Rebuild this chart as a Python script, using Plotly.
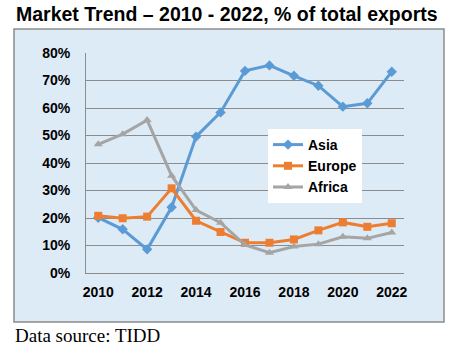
import plotly.graph_objects as go

years = list(range(2010, 2023))
asia = [20.1, 15.9, 8.6, 23.9, 49.6, 58.4, 73.5, 75.5, 71.7, 68.1, 60.5, 61.7, 73.2]
europe = [20.8, 19.9, 20.5, 30.8, 19.0, 14.9, 11.0, 11.0, 12.2, 15.5, 18.4, 16.8, 18.1]
africa = [46.8, 50.5, 55.6, 35.4, 22.9, 18.3, 10.2, 7.4, 9.6, 10.5, 13.2, 12.6, 14.7]
y_ticks = [0, 10, 20, 30, 40, 50, 60, 70, 80]
x_ticks = [2010, 2012, 2014, 2016, 2018, 2020, 2022]

W, H = 460, 348
L, R, T, B = 86, 404, 53, 273
pw, ph = R - L, B - T

def px(x):
    return (x - L) / pw

def py(y):
    return (B - y) / ph

fig = go.Figure()
series = [("Asia", asia, "#5B9BD5", "diamond"),
          ("Europe", europe, "#ED7D31", "square"),
          ("Africa", africa, "#A5A5A5", "triangle-up")]
for name, vals, col, sym in series:
    fig.add_trace(go.Scatter(x=years, y=vals, name=name, mode="lines+markers",
                             line=dict(color=col, width=3),
                             marker=dict(symbol=sym, size=8, color=col)))

fig.update_layout(
    width=W, height=H,
    margin=dict(l=L, r=W - R, t=T, b=H - B, pad=0),
    paper_bgcolor="white",
    plot_bgcolor="#BDD7EE",
    font=dict(family="Liberation Sans, Arial, sans-serif", color="black"),
    showlegend=True,
    legend=dict(x=px(268), y=py(129), xanchor="left", yanchor="top",
                bgcolor="white", borderwidth=0,
                font=dict(size=14, family="Liberation Sans, Arial, sans-serif", weight="bold"),
                tracegroupgap=0, itemwidth=30),
    xaxis=dict(range=[2009.5, 2022.5], tickvals=x_ticks, ticktext=[str(v) for v in x_ticks],
               showgrid=False, zeroline=False, showline=True, linecolor="#8C8C8C", linewidth=1,
               ticks="", tickfont=dict(size=14, weight="bold"), ticklabelstandoff=6),
    yaxis=dict(range=[0, 80], tickvals=y_ticks, ticktext=[f"{v}%" for v in y_ticks],
               showgrid=True, gridcolor="#8C8C8C", gridwidth=1, zeroline=False,
               showline=True, linecolor="#8C8C8C", linewidth=1,
               ticks="", tickfont=dict(size=14, weight="bold"), ticklabelstandoff=12),
    shapes=[dict(type="rect", xref="paper", yref="paper",
                 x0=px(14), x1=px(444), y0=py(322), y1=py(29),
                 fillcolor="#DDEBF7", line=dict(color="#8C8C8C", width=1.5), layer="below")],
    annotations=[
        dict(text="<b>Market Trend – 2010 - 2022, % of total exports</b>", xref="paper", yref="paper",
             x=px(14), y=py(1), xanchor="left", yanchor="top", showarrow=False,
             font=dict(size=19.5, family="Liberation Sans, Arial, sans-serif", color="black")),
        dict(text="Data source: TIDD", xref="paper", yref="paper",
             x=px(13), y=py(323), xanchor="left", yanchor="top", showarrow=False,
             font=dict(size=19, family="Liberation Serif, Times New Roman, serif", color="black")),
    ],
)
fig.write_html("out.html")
